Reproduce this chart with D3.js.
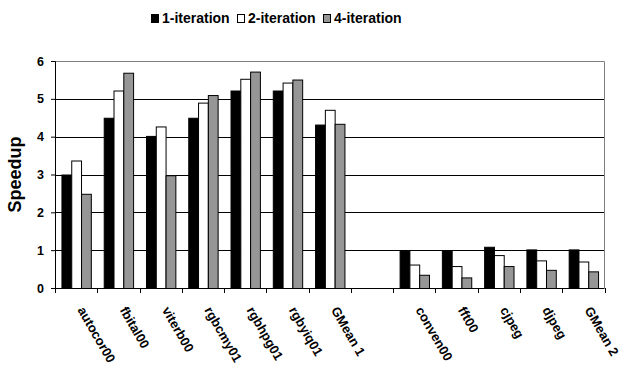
<!DOCTYPE html>
<html><head><meta charset="utf-8">
<script src="https://cdn.jsdelivr.net/npm/d3@7"></script>
<style>body{margin:0;background:#fff}svg{display:block;font-family:"Liberation Sans",Arial,sans-serif;font-weight:bold}</style>
</head><body>
<svg id="c" width="624" height="369"></svg>
<script>
const categories = ["autocor00","fbital00","viterb00","rgbcmy01","rgbhpg01","rgbyiq01","GMean 1","","conven00","fft00","cjpeg","djpeg","GMean 2"];
const seriesNames = ["1-iteration","2-iteration","4-iteration"];
const iter1 = [3.0, 4.5, 4.02, 4.5, 5.22, 5.22, 4.32, null, 0.99, 0.99, 1.09, 1.02, 1.02];
const iter2 = [3.37, 5.22, 4.27, 4.9, 5.53, 5.43, 4.71, null, 0.62, 0.58, 0.87, 0.73, 0.70];
const iter4 = [2.49, 5.69, 2.98, 5.1, 5.72, 5.51, 4.34, null, 0.35, 0.28, 0.58, 0.48, 0.44];
const yTicks = [0,1,2,3,4,5,6];
const colors = ["#000000","#ffffff","#969696"];
const series = [iter1, iter2, iter4];

const svg = d3.select("#c");
const L = 55, R = 604.5, T = 61, B = 288;
const x = d3.scaleBand().domain(d3.range(categories.length)).range([L, R]).paddingInner(0.305).paddingOuter(0.1525);
const x0 = d3.scaleBand().domain(d3.range(categories.length)).range([L, R]);
const xs = d3.scaleBand().domain(d3.range(3)).range([0, x.bandwidth()]);
const y = d3.scaleLinear().domain([0, 6]).range([B, T]);

// gridlines
svg.append("g").selectAll("line").data(yTicks.slice(1)).join("line")
  .attr("x1", L).attr("x2", R).attr("y1", d => Math.round(y(d)) + 0.5).attr("y2", d => Math.round(y(d)) + 0.5)
  .attr("stroke", d => d === 6 ? "#808080" : "#000").attr("stroke-width", 1);
svg.append("line").attr("x1", R).attr("x2", R).attr("y1", Math.round(T)+0.5).attr("y2", B).attr("stroke", "#808080");

// bars
series.forEach((s, si) => {
  svg.append("g").selectAll("rect").data(s.map((v, i) => ({v, i})).filter(d => d.v != null)).join("rect")
    .attr("x", d => x(d.i) + xs(si) + 0.5)
    .attr("y", d => y(d.v) + 0.5)
    .attr("width", xs.bandwidth())
    .attr("height", d => B - y(d.v))
    .attr("fill", colors[si]).attr("stroke", "#000").attr("stroke-width", 1);
});

// y axis
const ya = svg.append("g").attr("transform", `translate(${L},0)`)
  .call(d3.axisLeft(y).tickValues(yTicks).tickSize(4).tickFormat(d3.format("d")));
ya.select(".domain").attr("stroke", "#000");
ya.selectAll("text").attr("font-size", 12.5).attr("font-weight", "bold").attr("font-family", "Liberation Sans, Arial, sans-serif").attr("fill", "#000").attr("dx", "-4");

// x axis
const xa = svg.append("g").attr("transform", `translate(0,${B})`);
xa.append("line").attr("x1", L).attr("x2", R).attr("y1", 0.5).attr("y2", 0.5).attr("stroke", "#000");
xa.selectAll("line.t").data(d3.range(categories.length + 1)).join("line").attr("class", "t")
  .attr("x1", d => Math.round(L + d * x0.step()) + 0.5).attr("x2", d => Math.round(L + d * x0.step()) + 0.5)
  .attr("y1", 0).attr("y2", 5).attr("stroke", "#000");
xa.selectAll("text").data(categories.map((c, i) => ({c, i}))).join("text")
  .attr("transform", d => `translate(${x(d.i) + x.bandwidth()/2 + 1},${22}) rotate(60)`)
  .attr("font-size", 13).attr("font-weight", "bold").attr("fill", "#000")
  .text(d => d.c);

// y title
svg.append("text").attr("transform", `translate(21,${(T+B)/2}) rotate(-90)`)
  .attr("text-anchor", "middle").attr("font-size", 18).attr("font-weight", "bold").text("Speedup");

// legend
const lg = svg.append("g");
const lx = [151, 237, 323];
seriesNames.forEach((n, i) => {
  lg.append("rect").attr("x", lx[i] + 0.5).attr("y", 14.5).attr("width", 7).attr("height", 8)
    .attr("fill", colors[i]).attr("stroke", "#000");
  lg.append("text").attr("x", lx[i] + 11).attr("y", 23).attr("font-size", 14).attr("font-weight", "bold").text(n);
});
</script>
</body></html>
